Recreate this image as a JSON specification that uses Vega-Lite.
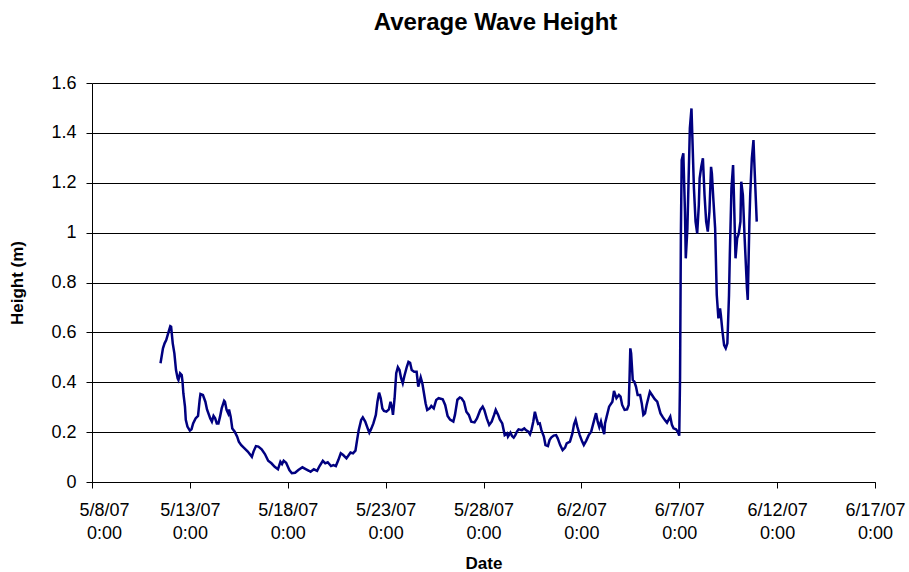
{
  "$schema": "https://vega.github.io/schema/vega-lite/v6.json",
  "width": 783,
  "height": 399,
  "autosize": "none",
  "padding": {"left": 92, "top": 83, "right": 34, "bottom": 90},
  "background": "white",
  "title": {
    "text": "Average Wave Height",
    "font": "Liberation Sans",
    "fontSize": 24,
    "fontWeight": "bold",
    "color": "black",
    "anchor": "middle",
    "frame": "group",
    "baseline": "alphabetic",
    "offset": 20,
    "dx": 12
  },
  "data": {
    "values": [
      {"t": "2007-05-11T12:00", "h": 0.476},
      {"t": "2007-05-11T15:00", "h": 0.536},
      {"t": "2007-05-11T17:00", "h": 0.556},
      {"t": "2007-05-11T19:00", "h": 0.569},
      {"t": "2007-05-11T22:00", "h": 0.603},
      {"t": "2007-05-12T00:00", "h": 0.625},
      {"t": "2007-05-12T01:00", "h": 0.623},
      {"t": "2007-05-12T03:00", "h": 0.556},
      {"t": "2007-05-12T05:00", "h": 0.516},
      {"t": "2007-05-12T07:00", "h": 0.449},
      {"t": "2007-05-12T09:00", "h": 0.416},
      {"t": "2007-05-12T10:00", "h": 0.409},
      {"t": "2007-05-12T12:00", "h": 0.436},
      {"t": "2007-05-12T14:00", "h": 0.429},
      {"t": "2007-05-12T15:00", "h": 0.402},
      {"t": "2007-05-12T16:00", "h": 0.356},
      {"t": "2007-05-12T18:00", "h": 0.302},
      {"t": "2007-05-12T19:00", "h": 0.249},
      {"t": "2007-05-12T21:00", "h": 0.222},
      {"t": "2007-05-13T00:00", "h": 0.206},
      {"t": "2007-05-13T02:00", "h": 0.211},
      {"t": "2007-05-13T04:00", "h": 0.235},
      {"t": "2007-05-13T07:00", "h": 0.255},
      {"t": "2007-05-13T10:00", "h": 0.265},
      {"t": "2007-05-13T12:00", "h": 0.329},
      {"t": "2007-05-13T13:00", "h": 0.353},
      {"t": "2007-05-13T16:00", "h": 0.349},
      {"t": "2007-05-13T19:00", "h": 0.322},
      {"t": "2007-05-13T21:00", "h": 0.291},
      {"t": "2007-05-14T01:00", "h": 0.255},
      {"t": "2007-05-14T03:00", "h": 0.242},
      {"t": "2007-05-14T05:00", "h": 0.265},
      {"t": "2007-05-14T07:00", "h": 0.255},
      {"t": "2007-05-14T09:00", "h": 0.235},
      {"t": "2007-05-14T11:00", "h": 0.235},
      {"t": "2007-05-14T13:00", "h": 0.262},
      {"t": "2007-05-14T15:00", "h": 0.295},
      {"t": "2007-05-14T18:00", "h": 0.326},
      {"t": "2007-05-14T19:00", "h": 0.322},
      {"t": "2007-05-14T21:00", "h": 0.289},
      {"t": "2007-05-14T23:00", "h": 0.275},
      {"t": "2007-05-15T00:00", "h": 0.291},
      {"t": "2007-05-15T02:00", "h": 0.262},
      {"t": "2007-05-15T04:00", "h": 0.215},
      {"t": "2007-05-15T07:00", "h": 0.202},
      {"t": "2007-05-15T10:00", "h": 0.182},
      {"t": "2007-05-15T12:00", "h": 0.162},
      {"t": "2007-05-15T15:00", "h": 0.148},
      {"t": "2007-05-15T19:00", "h": 0.135},
      {"t": "2007-05-15T23:00", "h": 0.122},
      {"t": "2007-05-16T04:00", "h": 0.101},
      {"t": "2007-05-16T06:00", "h": 0.122},
      {"t": "2007-05-16T09:00", "h": 0.144},
      {"t": "2007-05-16T12:00", "h": 0.142},
      {"t": "2007-05-16T16:00", "h": 0.131},
      {"t": "2007-05-16T20:00", "h": 0.112},
      {"t": "2007-05-17T00:00", "h": 0.085},
      {"t": "2007-05-17T04:00", "h": 0.075},
      {"t": "2007-05-17T08:00", "h": 0.061},
      {"t": "2007-05-17T12:00", "h": 0.051},
      {"t": "2007-05-17T15:00", "h": 0.081},
      {"t": "2007-05-17T17:00", "h": 0.072},
      {"t": "2007-05-17T19:00", "h": 0.085},
      {"t": "2007-05-17T22:00", "h": 0.077},
      {"t": "2007-05-18T02:00", "h": 0.048},
      {"t": "2007-05-18T05:00", "h": 0.035},
      {"t": "2007-05-18T09:00", "h": 0.037},
      {"t": "2007-05-18T13:00", "h": 0.048},
      {"t": "2007-05-18T18:00", "h": 0.059},
      {"t": "2007-05-18T22:00", "h": 0.052},
      {"t": "2007-05-19T02:00", "h": 0.045},
      {"t": "2007-05-19T04:00", "h": 0.041},
      {"t": "2007-05-19T08:00", "h": 0.051},
      {"t": "2007-05-19T12:00", "h": 0.045},
      {"t": "2007-05-19T15:00", "h": 0.064},
      {"t": "2007-05-19T19:00", "h": 0.085},
      {"t": "2007-05-19T22:00", "h": 0.075},
      {"t": "2007-05-20T01:00", "h": 0.079},
      {"t": "2007-05-20T05:00", "h": 0.064},
      {"t": "2007-05-20T08:00", "h": 0.068},
      {"t": "2007-05-20T11:00", "h": 0.064},
      {"t": "2007-05-20T14:00", "h": 0.088},
      {"t": "2007-05-20T17:00", "h": 0.115},
      {"t": "2007-05-20T20:00", "h": 0.108},
      {"t": "2007-05-21T00:00", "h": 0.095},
      {"t": "2007-05-21T02:00", "h": 0.104},
      {"t": "2007-05-21T05:00", "h": 0.118},
      {"t": "2007-05-21T08:00", "h": 0.115},
      {"t": "2007-05-21T11:00", "h": 0.126},
      {"t": "2007-05-21T13:00", "h": 0.168},
      {"t": "2007-05-21T15:00", "h": 0.208},
      {"t": "2007-05-21T18:00", "h": 0.249},
      {"t": "2007-05-21T20:00", "h": 0.259},
      {"t": "2007-05-21T23:00", "h": 0.242},
      {"t": "2007-05-22T02:00", "h": 0.215},
      {"t": "2007-05-22T04:00", "h": 0.198},
      {"t": "2007-05-22T06:00", "h": 0.211},
      {"t": "2007-05-22T09:00", "h": 0.235},
      {"t": "2007-05-22T12:00", "h": 0.269},
      {"t": "2007-05-22T14:00", "h": 0.322},
      {"t": "2007-05-22T16:00", "h": 0.358},
      {"t": "2007-05-22T18:00", "h": 0.336},
      {"t": "2007-05-22T20:00", "h": 0.295},
      {"t": "2007-05-22T22:00", "h": 0.285},
      {"t": "2007-05-23T01:00", "h": 0.282},
      {"t": "2007-05-23T04:00", "h": 0.291},
      {"t": "2007-05-23T06:00", "h": 0.322},
      {"t": "2007-05-23T08:00", "h": 0.295},
      {"t": "2007-05-23T09:00", "h": 0.269},
      {"t": "2007-05-23T11:00", "h": 0.336},
      {"t": "2007-05-23T13:00", "h": 0.436},
      {"t": "2007-05-23T15:00", "h": 0.460},
      {"t": "2007-05-23T17:00", "h": 0.449},
      {"t": "2007-05-23T19:00", "h": 0.416},
      {"t": "2007-05-23T21:00", "h": 0.396},
      {"t": "2007-05-23T23:00", "h": 0.425},
      {"t": "2007-05-24T02:00", "h": 0.462},
      {"t": "2007-05-24T04:00", "h": 0.482},
      {"t": "2007-05-24T06:00", "h": 0.478},
      {"t": "2007-05-24T08:00", "h": 0.449},
      {"t": "2007-05-24T11:00", "h": 0.442},
      {"t": "2007-05-24T14:00", "h": 0.442},
      {"t": "2007-05-24T16:00", "h": 0.382},
      {"t": "2007-05-24T19:00", "h": 0.420},
      {"t": "2007-05-24T21:00", "h": 0.396},
      {"t": "2007-05-24T23:00", "h": 0.356},
      {"t": "2007-05-25T01:00", "h": 0.316},
      {"t": "2007-05-25T03:00", "h": 0.289},
      {"t": "2007-05-25T06:00", "h": 0.295},
      {"t": "2007-05-25T08:00", "h": 0.305},
      {"t": "2007-05-25T11:00", "h": 0.295},
      {"t": "2007-05-25T14:00", "h": 0.329},
      {"t": "2007-05-25T17:00", "h": 0.336},
      {"t": "2007-05-25T22:00", "h": 0.332},
      {"t": "2007-05-26T01:00", "h": 0.309},
      {"t": "2007-05-26T04:00", "h": 0.265},
      {"t": "2007-05-26T07:00", "h": 0.250},
      {"t": "2007-05-26T11:00", "h": 0.242},
      {"t": "2007-05-26T13:00", "h": 0.269},
      {"t": "2007-05-26T16:00", "h": 0.330},
      {"t": "2007-05-26T19:00", "h": 0.339},
      {"t": "2007-05-26T21:00", "h": 0.336},
      {"t": "2007-05-27T00:00", "h": 0.322},
      {"t": "2007-05-27T03:00", "h": 0.282},
      {"t": "2007-05-27T06:00", "h": 0.269},
      {"t": "2007-05-27T09:00", "h": 0.242},
      {"t": "2007-05-27T13:00", "h": 0.239},
      {"t": "2007-05-27T16:00", "h": 0.255},
      {"t": "2007-05-27T20:00", "h": 0.289},
      {"t": "2007-05-27T23:00", "h": 0.302},
      {"t": "2007-05-28T01:00", "h": 0.289},
      {"t": "2007-05-28T04:00", "h": 0.255},
      {"t": "2007-05-28T07:00", "h": 0.229},
      {"t": "2007-05-28T10:00", "h": 0.242},
      {"t": "2007-05-28T13:00", "h": 0.269},
      {"t": "2007-05-28T15:00", "h": 0.289},
      {"t": "2007-05-28T18:00", "h": 0.269},
      {"t": "2007-05-28T20:00", "h": 0.251},
      {"t": "2007-05-28T23:00", "h": 0.235},
      {"t": "2007-05-29T02:00", "h": 0.188},
      {"t": "2007-05-29T05:00", "h": 0.195},
      {"t": "2007-05-29T06:00", "h": 0.182},
      {"t": "2007-05-29T09:00", "h": 0.198},
      {"t": "2007-05-29T11:00", "h": 0.184},
      {"t": "2007-05-29T13:00", "h": 0.178},
      {"t": "2007-05-29T15:00", "h": 0.188},
      {"t": "2007-05-29T17:00", "h": 0.202},
      {"t": "2007-05-29T19:00", "h": 0.211},
      {"t": "2007-05-29T23:00", "h": 0.208},
      {"t": "2007-05-30T02:00", "h": 0.215},
      {"t": "2007-05-30T04:00", "h": 0.208},
      {"t": "2007-05-30T07:00", "h": 0.202},
      {"t": "2007-05-30T09:00", "h": 0.191},
      {"t": "2007-05-30T11:00", "h": 0.211},
      {"t": "2007-05-30T13:00", "h": 0.242},
      {"t": "2007-05-30T15:00", "h": 0.282},
      {"t": "2007-05-30T17:00", "h": 0.255},
      {"t": "2007-05-30T19:00", "h": 0.233},
      {"t": "2007-05-30T21:00", "h": 0.235},
      {"t": "2007-05-30T23:00", "h": 0.208},
      {"t": "2007-05-31T02:00", "h": 0.182},
      {"t": "2007-05-31T04:00", "h": 0.148},
      {"t": "2007-05-31T07:00", "h": 0.144},
      {"t": "2007-05-31T09:00", "h": 0.168},
      {"t": "2007-05-31T11:00", "h": 0.178},
      {"t": "2007-05-31T14:00", "h": 0.186},
      {"t": "2007-05-31T17:00", "h": 0.188},
      {"t": "2007-05-31T19:00", "h": 0.175},
      {"t": "2007-05-31T22:00", "h": 0.148},
      {"t": "2007-06-01T01:00", "h": 0.128},
      {"t": "2007-06-01T04:00", "h": 0.138},
      {"t": "2007-06-01T06:00", "h": 0.155},
      {"t": "2007-06-01T10:00", "h": 0.162},
      {"t": "2007-06-01T13:00", "h": 0.195},
      {"t": "2007-06-01T15:00", "h": 0.231},
      {"t": "2007-06-01T17:00", "h": 0.249},
      {"t": "2007-06-01T19:00", "h": 0.222},
      {"t": "2007-06-01T22:00", "h": 0.188},
      {"t": "2007-06-02T01:00", "h": 0.162},
      {"t": "2007-06-02T03:00", "h": 0.148},
      {"t": "2007-06-02T06:00", "h": 0.166},
      {"t": "2007-06-02T09:00", "h": 0.188},
      {"t": "2007-06-02T12:00", "h": 0.202},
      {"t": "2007-06-02T16:00", "h": 0.252},
      {"t": "2007-06-02T18:00", "h": 0.276},
      {"t": "2007-06-02T20:00", "h": 0.242},
      {"t": "2007-06-02T22:00", "h": 0.220},
      {"t": "2007-06-03T00:00", "h": 0.242},
      {"t": "2007-06-03T02:00", "h": 0.215},
      {"t": "2007-06-03T04:00", "h": 0.192},
      {"t": "2007-06-03T05:00", "h": 0.235},
      {"t": "2007-06-03T07:00", "h": 0.262},
      {"t": "2007-06-03T10:00", "h": 0.302},
      {"t": "2007-06-03T14:00", "h": 0.322},
      {"t": "2007-06-03T16:00", "h": 0.365},
      {"t": "2007-06-03T19:00", "h": 0.336},
      {"t": "2007-06-03T22:00", "h": 0.349},
      {"t": "2007-06-04T00:00", "h": 0.342},
      {"t": "2007-06-04T02:00", "h": 0.309},
      {"t": "2007-06-04T05:00", "h": 0.289},
      {"t": "2007-06-04T08:00", "h": 0.291},
      {"t": "2007-06-04T10:00", "h": 0.309},
      {"t": "2007-06-04T11:00", "h": 0.409},
      {"t": "2007-06-04T12:00", "h": 0.536},
      {"t": "2007-06-04T13:00", "h": 0.516},
      {"t": "2007-06-04T15:00", "h": 0.409},
      {"t": "2007-06-04T17:00", "h": 0.402},
      {"t": "2007-06-04T19:00", "h": 0.382},
      {"t": "2007-06-04T21:00", "h": 0.349},
      {"t": "2007-06-05T00:00", "h": 0.349},
      {"t": "2007-06-05T02:00", "h": 0.316},
      {"t": "2007-06-05T04:00", "h": 0.269},
      {"t": "2007-06-05T06:00", "h": 0.275},
      {"t": "2007-06-05T08:00", "h": 0.309},
      {"t": "2007-06-05T12:00", "h": 0.362},
      {"t": "2007-06-05T16:00", "h": 0.342},
      {"t": "2007-06-05T18:00", "h": 0.332},
      {"t": "2007-06-05T21:00", "h": 0.322},
      {"t": "2007-06-06T01:00", "h": 0.275},
      {"t": "2007-06-06T04:00", "h": 0.259},
      {"t": "2007-06-06T07:00", "h": 0.246},
      {"t": "2007-06-06T09:00", "h": 0.238},
      {"t": "2007-06-06T13:00", "h": 0.262},
      {"t": "2007-06-06T15:00", "h": 0.229},
      {"t": "2007-06-06T17:00", "h": 0.215},
      {"t": "2007-06-06T20:00", "h": 0.211},
      {"t": "2007-06-06T22:00", "h": 0.202},
      {"t": "2007-06-07T00:00", "h": 0.186},
      {"t": "2007-06-07T01:00", "h": 0.420},
      {"t": "2007-06-07T02:00", "h": 0.990},
      {"t": "2007-06-07T03:00", "h": 1.291},
      {"t": "2007-06-07T05:00", "h": 1.318},
      {"t": "2007-06-07T07:00", "h": 1.084},
      {"t": "2007-06-07T08:00", "h": 0.897},
      {"t": "2007-06-07T10:00", "h": 1.017},
      {"t": "2007-06-07T11:00", "h": 1.151},
      {"t": "2007-06-07T13:00", "h": 1.418},
      {"t": "2007-06-07T15:00", "h": 1.498},
      {"t": "2007-06-07T16:00", "h": 1.391},
      {"t": "2007-06-07T18:00", "h": 1.178},
      {"t": "2007-06-07T20:00", "h": 1.044},
      {"t": "2007-06-07T22:00", "h": 0.997},
      {"t": "2007-06-08T00:00", "h": 1.111},
      {"t": "2007-06-08T01:00", "h": 1.218},
      {"t": "2007-06-08T03:00", "h": 1.264},
      {"t": "2007-06-08T05:00", "h": 1.298},
      {"t": "2007-06-08T07:00", "h": 1.151},
      {"t": "2007-06-08T09:00", "h": 1.044},
      {"t": "2007-06-08T11:00", "h": 1.004},
      {"t": "2007-06-08T13:00", "h": 1.084},
      {"t": "2007-06-08T15:00", "h": 1.264},
      {"t": "2007-06-08T16:00", "h": 1.238},
      {"t": "2007-06-08T18:00", "h": 1.124},
      {"t": "2007-06-08T20:00", "h": 1.017},
      {"t": "2007-06-08T22:00", "h": 0.750},
      {"t": "2007-06-09T00:00", "h": 0.656},
      {"t": "2007-06-09T02:00", "h": 0.696},
      {"t": "2007-06-09T03:00", "h": 0.670},
      {"t": "2007-06-09T05:00", "h": 0.603},
      {"t": "2007-06-09T07:00", "h": 0.549},
      {"t": "2007-06-09T09:00", "h": 0.536},
      {"t": "2007-06-09T11:00", "h": 0.556},
      {"t": "2007-06-09T13:00", "h": 0.750},
      {"t": "2007-06-09T14:00", "h": 0.910},
      {"t": "2007-06-09T16:00", "h": 1.178},
      {"t": "2007-06-09T18:00", "h": 1.271},
      {"t": "2007-06-09T19:00", "h": 1.151},
      {"t": "2007-06-09T21:00", "h": 0.897},
      {"t": "2007-06-09T23:00", "h": 0.977},
      {"t": "2007-06-10T01:00", "h": 0.997},
      {"t": "2007-06-10T03:00", "h": 1.044},
      {"t": "2007-06-10T04:00", "h": 1.204},
      {"t": "2007-06-10T06:00", "h": 1.151},
      {"t": "2007-06-10T08:00", "h": 0.990},
      {"t": "2007-06-10T11:00", "h": 0.777},
      {"t": "2007-06-10T12:00", "h": 0.730},
      {"t": "2007-06-10T14:00", "h": 1.044},
      {"t": "2007-06-10T15:00", "h": 1.151},
      {"t": "2007-06-10T17:00", "h": 1.298},
      {"t": "2007-06-10T19:00", "h": 1.371},
      {"t": "2007-06-10T20:00", "h": 1.284},
      {"t": "2007-06-10T22:00", "h": 1.124},
      {"t": "2007-06-10T23:00", "h": 1.044}
    ]
  },
  "mark": {"type": "line", "color": "#000080", "strokeWidth": 2.5, "interpolate": "linear"},
  "encoding": {
    "x": {
      "field": "t",
      "type": "temporal",
      "scale": {
        "domain": [
          {"year": 2007, "month": "May", "date": 8},
          {"year": 2007, "month": "Jun", "date": 17}
        ]
      },
      "axis": {
        "title": "Date",
        "values": [
          {"year": 2007, "month": "May", "date": 8},
          {"year": 2007, "month": "May", "date": 13},
          {"year": 2007, "month": "May", "date": 18},
          {"year": 2007, "month": "May", "date": 23},
          {"year": 2007, "month": "May", "date": 28},
          {"year": 2007, "month": "Jun", "date": 2},
          {"year": 2007, "month": "Jun", "date": 7},
          {"year": 2007, "month": "Jun", "date": 12},
          {"year": 2007, "month": "Jun", "date": 17}
        ],
        "labelExpr": "[timeFormat(datum.value, '%-m/%-d/%y'), timeFormat(datum.value, '%-H:%M')]",
        "labelFlush": false,
        "labelOverlap": false,
        "labelBound": false,
        "labelOffset": {"condition": {"test": "datum.value < datetime(2007, 4, 9)", "value": 12}, "value": 0},
        "labelLineHeight": 23,
        "labelPadding": 13,
        "grid": false,
        "tickSize": 6,
        "titlePadding": 13
      }
    },
    "y": {
      "field": "h",
      "type": "quantitative",
      "scale": {"domain": [0, 1.6], "nice": false, "zero": true},
      "axis": {
        "title": "Height (m)",
        "values": [0, 0.2, 0.4, 0.6, 0.8, 1, 1.2, 1.4, 1.6],
        "format": "~g",
        "grid": true,
        "tickSize": 6,
        "labelPadding": 10,
        "titlePadding": 24
      }
    }
  },
  "config": {
    "view": {"stroke": null},
    "axis": {
      "labelFont": "Liberation Sans",
      "labelFontSize": 18,
      "labelColor": "black",
      "titleFont": "Liberation Sans",
      "titleFontSize": 17,
      "titleFontWeight": "bold",
      "titleColor": "black",
      "domainColor": "black",
      "domainWidth": 1,
      "tickColor": "black",
      "tickWidth": 1,
      "gridColor": "black",
      "gridWidth": 1,
      "gridOpacity": 1
    }
  }
}
